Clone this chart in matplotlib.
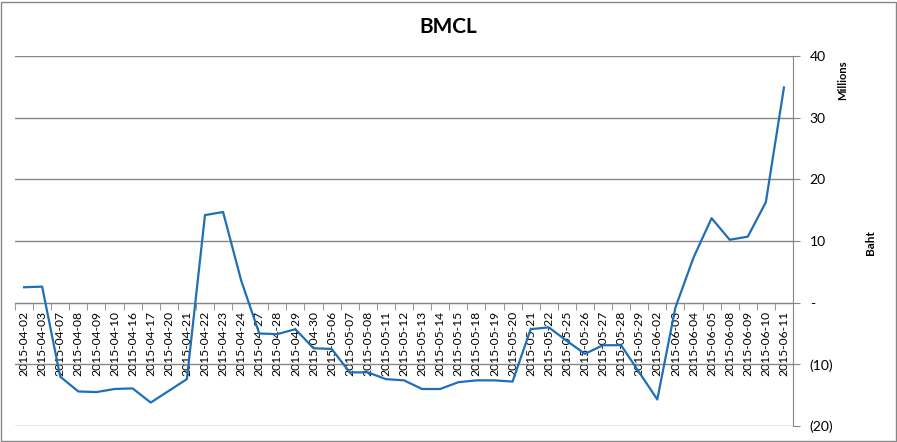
import matplotlib.pyplot as plt
from matplotlib.patches import Rectangle
from matplotlib.ticker import FixedLocator, FuncFormatter

dates = ["2015-04-02", "2015-04-03", "2015-04-07", "2015-04-08", "2015-04-09",
         "2015-04-10", "2015-04-16", "2015-04-17", "2015-04-20", "2015-04-21",
         "2015-04-22", "2015-04-23", "2015-04-24", "2015-04-27", "2015-04-28",
         "2015-04-29", "2015-04-30", "2015-05-06", "2015-05-07", "2015-05-08",
         "2015-05-11", "2015-05-12", "2015-05-13", "2015-05-14", "2015-05-15",
         "2015-05-18", "2015-05-19", "2015-05-20", "2015-05-21", "2015-05-22",
         "2015-05-25", "2015-05-26", "2015-05-27", "2015-05-28", "2015-05-29",
         "2015-06-02", "2015-06-03", "2015-06-04", "2015-06-05", "2015-06-08",
         "2015-06-09", "2015-06-10", "2015-06-11"]

# Baht, millions
values = [2.5, 2.6, -12.0, -14.4, -14.5, -14.0, -13.9, -16.2, -14.3, -12.4,
          14.2, 14.7, 3.6, -5.0, -5.1, -4.3, -7.4, -7.5, -11.3, -11.3,
          -12.4, -12.6, -14.0, -14.0, -12.9, -12.6, -12.6, -12.8, -4.3, -4.0,
          -6.2, -8.3, -6.9, -6.9, -11.3, -15.7, -0.8, 7.3, 13.7, 10.2,
          10.7, 16.3, 34.9]

y_ticks = [-20, -10, 0, 10, 20, 30, 40]

FONT = "Lato"
GRID = "#868686"
LINE = "#1f6fb8"


def fmt_baht(v, pos):
    if v == 0:
        return "-"
    if v < 0:
        return f"({abs(v):.0f})"
    return f"{v:.0f}"


fig = plt.figure(figsize=(8.97, 4.42), dpi=100)
ax = fig.add_axes([15 / 897, 1 - 426 / 442, (793 - 15) / 897, (426 - 56) / 442])

x = list(range(len(dates)))
ax.plot(x, values, color=LINE, linewidth=1.6, zorder=3)

ax.set_xlim(-0.5, len(dates) - 0.5)
ax.set_ylim(-20, 40)

# x axis crosses at zero, tick marks between categories
ax.spines["bottom"].set_position(("data", 0))
ax.spines["bottom"].set_color(GRID)
ax.spines["top"].set_visible(False)
ax.spines["left"].set_visible(False)
ax.spines["right"].set_color(GRID)

ax.xaxis.set_major_locator(FixedLocator(x))
ax.set_xticklabels(dates, rotation=90, fontsize=8.7, family=FONT, va="top")
ax.xaxis.set_minor_locator(FixedLocator([i - 0.5 for i in range(len(dates) + 1)]))
ax.tick_params(axis="x", which="major", length=0, pad=6)
ax.tick_params(axis="x", which="minor", length=5, color=GRID, direction="out")

ax.yaxis.tick_right()
ax.set_yticks(y_ticks)
ax.yaxis.set_major_formatter(FuncFormatter(fmt_baht))
ax.tick_params(axis="y", length=5, color=GRID, pad=7, labelsize=10)
for lbl in ax.get_yticklabels():
    lbl.set_family(FONT)
ax.grid(axis="y", color=GRID, linewidth=1)
ax.set_axisbelow(True)

fig.text(448 / 897, 1 - 27 / 442, "BMCL", ha="center", va="center",
         fontsize=15, fontweight="bold", family=FONT)
fig.text(843 / 897, 1 - 80 / 442, "Millions", rotation=90, ha="center",
         va="center", fontsize=8, fontweight="bold", family=FONT)
fig.text(870 / 897, 1 - 243 / 442, "Baht", rotation=90, ha="center",
         va="center", fontsize=8.5, fontweight="bold", family=FONT)

# chart border
fig.patches.append(Rectangle((0.5 / 897, 1.5 / 442), 895 / 897, 439 / 442,
                             transform=fig.transFigure, fill=False,
                             edgecolor=GRID, linewidth=1))

fig.savefig("out.png", dpi=100)
